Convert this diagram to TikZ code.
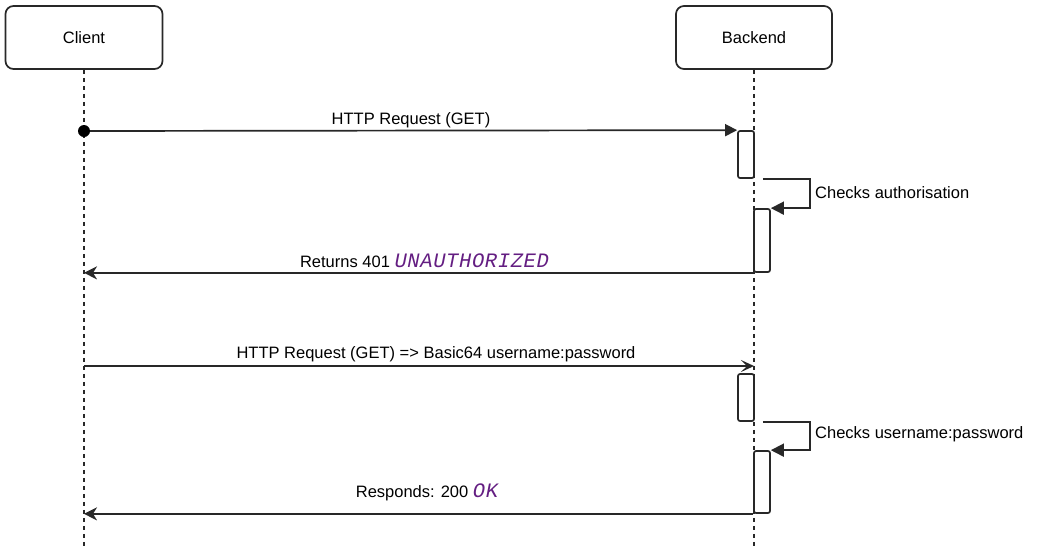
\documentclass[tikz,border=0pt]{standalone}
\usepackage{fontspec}
\setmainfont{Liberation Sans}
\newfontfamily\codefont{Liberation Mono}[LetterSpace=3]
\usetikzlibrary{arrows.meta,positioning}
\definecolor{linegrey}{RGB}{40,40,40}
\definecolor{codepurple}{RGB}{100,30,130}
\newcommand{\codeword}[1]{{\codefont\itshape\fontsize{20.5}{24}\selectfont\color{codepurple}#1}}
\tikzset{
  actor/.style={draw=linegrey,line width=1.7pt,rounded corners=8pt,minimum height=63pt,font=\fontsize{16.5}{20}\selectfont},
  activation/.style={draw=linegrey,line width=1.7pt,rounded corners=2pt,minimum width=16pt,inner sep=0pt,fill=white},
  lifeline/.style={draw=linegrey,line width=1.7pt,dash pattern=on 4pt off 4pt},
  msg/.style={draw=linegrey,line width=1.7pt},
  lbl/.style={font=\fontsize{16.5}{20}\selectfont,inner sep=0pt}
}
\begin{document}
\begin{tikzpicture}[x=1pt,y=-1pt]
\useasboundingbox (0,0) rectangle (1040,555);
% actors
\node[actor,minimum width=157pt] (client) at (84,37.5) {Client};
\node[actor,minimum width=156pt] (backend) at (754,37.5) {Backend};
\coordinate (bottom) at (0,548);
\draw[lifeline] (client.south) -- (client.south |- bottom);
\draw[lifeline] (backend.south) -- (backend.south |- bottom);
% activations
\foreach \n/\x/\y/\h in {act1/746/154.5/47,act2/762/240.5/63,act3/746/397.5/47,act4/762/482/62}
  \node[activation,minimum height=\h pt] (\n) at (\x,\y) {};
% first request
\node[circle,fill=black,minimum size=12pt,inner sep=0pt] (start) at (84,131) {};
\draw[msg,-{Triangle[length=12pt,width=12pt]}] (start) -- (act1.north west);
\node[lbl,anchor=base] (lbl1) at (411,124) {HTTP Request (GET)};
% self check 1
\coordinate (self1) at ([xshift=8pt]act1.south east);
\draw[msg,-{Triangle[length=13pt,width=13pt]}] (self1) -- ++(47,0) |- (act2.north east);
\node[lbl,anchor=base west] (chk1) at (815,198) {Checks authorisation};
% 401 reply
\draw[msg,-{Stealth[length=13pt,width=13pt,inset=4pt]}] (act2.south west) -- (act2.south west -| client.south);
\node[lbl,anchor=base] (lbl2) at (424.5,267) {Returns 401 \codeword{UNAUTHORIZED}};
% second request
\coordinate (req2) at (client.south |- 0,366);
\draw[msg,-{Stealth[length=13pt,width=12pt,inset=6pt]}] (req2) -- (req2 -| backend.south);
\node[lbl,anchor=base] (lbl3) at (436,358) {HTTP Request (GET) => Basic64 username:password};
% self check 2
\coordinate (self2) at ([xshift=8pt]act3.south east);
\draw[msg,-{Triangle[length=13pt,width=13pt]}] (self2) -- ++(47,0) |- (act4.north east);
\node[lbl,anchor=base west] (chk2) at (815,438) {Checks username:password};
% 200 reply
\draw[msg,-{Stealth[length=13pt,width=13pt,inset=4pt]}] (act4.south west) -- (act4.south west -| client.south);
\node[lbl,anchor=base] (lbl4) at (427,497) {Responds: 200 \codeword{OK}};
\end{tikzpicture}
\end{document}
